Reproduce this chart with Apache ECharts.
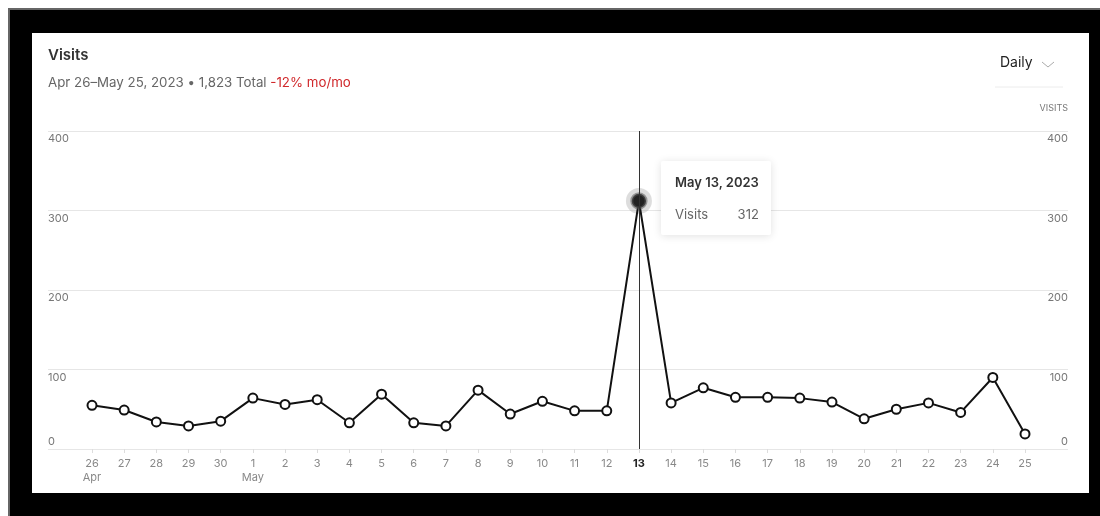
<!DOCTYPE html>
<html>
<head>
<meta charset="utf-8">
<script src="https://cdn.jsdelivr.net/npm/echarts@6/dist/echarts.min.js"></script>
<style>
  html, body { margin: 0; padding: 0; background: #fff; }
  .frame {
    position: absolute; left: 8px; top: 8px; width: 1100px; height: 520px;
    background: #000; border-top: 2px solid #666; border-left: 2px solid #666;
  }
  .panel {
    position: absolute; left: 32px; top: 33px; width: 1057px; height: 460px;
    background: #fff;
  }
  #chart { position: absolute; left: 0; top: 0; width: 1100px; height: 516px; }
</style>
</head>
<body>
<div class="frame"></div>
<div class="panel"></div>
<div id="chart"></div>
<script>
// daily visits, Apr 26 - May 25 2023
const days = [26, 27, 28, 29, 30, 1, 2, 3, 4, 5, 6, 7, 8, 9, 10, 11, 12, 13, 14, 15, 16, 17, 18, 19, 20, 21, 22, 23, 24, 25];
const visits = [55, 49, 34, 29, 35, 64, 56, 62, 33, 69, 33, 29, 74, 44, 60, 48, 48, 312, 58, 77, 65, 65, 64, 59, 38, 50, 58, 46, 90, 19];
const monthNames = ["Apr", "May"];
const year = 2023;
const yMax = 400;
const yStep = 100;
const activeIndex = 17; // May 13

// month for each day (day number drops -> next month)
const monthOf = [];
let m = 0;
days.forEach((d, i) => {
  if (i > 0 && d < days[i - 1]) m++;
  monthOf.push(m);
});

const font = "Inter, 'Noto Sans', sans-serif";

const yLabelFormatter = function (v) {
  return v === 0 ? "{b|" + v + "}" : "{t|" + v + "}";
};
const yLabel = {
  inside: true,
  margin: 0,
  color: "#777",
  fontSize: 11,
  fontFamily: font,
  verticalAlign: "middle",
  formatter: yLabelFormatter,
  rich: {
    t: { padding: [16, 0, 0, 0], color: "#777", fontSize: 11, fontFamily: font },
    b: { padding: [0, 0, 14, 0], color: "#777", fontSize: 11, fontFamily: font },
  },
};

const chart = echarts.init(document.getElementById("chart"));

const option = {
  animation: false,
  backgroundColor: "transparent",
  textStyle: { fontFamily: font },
  title: {
    text: "Visits",
    left: 48,
    top: 48,
    padding: 0,
    itemGap: 13,
    textStyle: { color: "#333", fontSize: 15, fontWeight: 600, fontFamily: font },
    subtext: "{g|Apr 26\u2013May 25, 2023 \u2022 1,823 Total }{r|-12% mo/mo}",
    subtextStyle: {
      rich: {
        g: { color: "#666", fontSize: 13.3, fontFamily: font },
        r: { color: "#d0282b", fontSize: 13.3, fontFamily: font },
      },
    },
  },
  graphic: [
    {
      type: "text",
      left: 1000,
      top: 56,
      style: { text: "Daily", fill: "#222", fontSize: 14, fontFamily: font },
    },
    {
      type: "polyline",
      shape: { points: [[1042, 62], [1048, 67], [1054, 62]] },
      style: { stroke: "#aaa", lineWidth: 1, fill: null },
    },
    {
      type: "line",
      shape: { x1: 995, y1: 87, x2: 1063, y2: 87 },
      style: { stroke: "#ececec", lineWidth: 1 },
    },
  ],
  tooltip: {
    trigger: "axis",
    triggerOn: "none",
    alwaysShowContent: true,
    transitionDuration: 0,
    backgroundColor: "#fff",
    borderWidth: 0,
    padding: [13, 12, 13, 14],
    extraCssText: "box-shadow:0 1px 8px rgba(0,0,0,0.12);border-radius:2px;",
    axisPointer: {
      type: "line",
      lineStyle: { color: "#333", width: 1, type: "solid" },
    },
    position: function (point) {
      return [point[0] + 22, point[1] - 40];
    },
    formatter: function (params) {
      const p = params.find((x) => x.seriesIndex === 0) || params[0];
      const i = p.dataIndex;
      const title = monthNames[monthOf[i]] + " " + days[i] + ", " + year;
      return (
        '<div style="font-family:Inter,sans-serif;font-weight:600;color:#333;font-size:13px;line-height:16px;margin-bottom:16px">' +
        title +
        "</div>" +
        '<div style="font-family:Inter,sans-serif;display:flex;justify-content:space-between;color:#666;font-size:13px;line-height:16px">' +
        "<span>Visits</span><span style=\"margin-left:28px\">" +
        p.value +
        "</span></div>"
      );
    },
  },
  grid: [
    { left: 92, right: 75, top: 131, bottom: 67 },
    { left: 48, right: 32, top: 131, bottom: 67 },
  ],
  xAxis: [
    {
      type: "category",
      gridIndex: 0,
      data: days,
      boundaryGap: false,
      axisLine: { show: false },
      axisTick: { show: true, length: 4, lineStyle: { color: "#ddd" } },
      axisLabel: {
        margin: 8,
        color: "#888",
        fontSize: 11,
        lineHeight: 14,
        fontFamily: font,
        interval: 0,
        formatter: function (v, i) {
          const day = i === activeIndex ? "{a|" + v + "}" : v;
          if (i === 0 || days[i] < days[i - 1]) return day + "\n" + monthNames[monthOf[i]];
          return day;
        },
        rich: {
          a: { color: "#222", fontWeight: 700, fontSize: 11, lineHeight: 14, fontFamily: font },
        },
      },
      axisPointer: { show: true },
    },
    {
      type: "value",
      gridIndex: 1,
      min: 0,
      max: 1,
      show: false,
    },
  ],
  yAxis: [
    {
      type: "value",
      gridIndex: 0,
      min: 0,
      max: yMax,
      interval: yStep,
      show: false,
    },
    {
      type: "value",
      gridIndex: 1,
      position: "left",
      min: 0,
      max: yMax,
      interval: yStep,
      axisLine: { show: false },
      axisTick: { show: false },
      splitLine: { show: true, lineStyle: { color: "#e6e6e6", width: 1 } },
      axisLabel: yLabel,
    },
    {
      type: "value",
      gridIndex: 1,
      position: "right",
      min: 0,
      max: yMax,
      interval: yStep,
      name: "VISITS",
      nameLocation: "end",
      nameGap: 18,
      nameTextStyle: { color: "#777", fontSize: 9, align: "right", fontFamily: font },
      axisLine: { show: false },
      axisTick: { show: false },
      splitLine: { show: false },
      axisLabel: yLabel,
    },
  ],
  series: [
    {
      name: "Visits",
      type: "line",
      xAxisIndex: 0,
      yAxisIndex: 0,
      z: 3,
      symbol: "circle",
      symbolSize: 9,
      lineStyle: { color: "#111", width: 2 },
      itemStyle: { color: "#fff", borderColor: "#111", borderWidth: 2 },
      emphasis: { disabled: true },
      data: visits.map((v, i) =>
        i === activeIndex
          ? {
              value: v,
              symbolSize: 13,
              itemStyle: { color: "#222", borderColor: "rgba(90,90,90,0.55)", borderWidth: 3 },
            }
          : v
      ),
    },
    {
      name: "halo",
      type: "scatter",
      xAxisIndex: 0,
      yAxisIndex: 0,
      z: 1,
      silent: true,
      symbolSize: 26,
      itemStyle: { color: "rgba(150,150,150,0.4)" },
      emphasis: { disabled: true },
      data: visits.map((v, i) => (i === activeIndex ? v : "-")),
    },
  ],
};

chart.setOption(option);
chart.dispatchAction({ type: "showTip", seriesIndex: 0, dataIndex: activeIndex });
</script>
</body>
</html>
